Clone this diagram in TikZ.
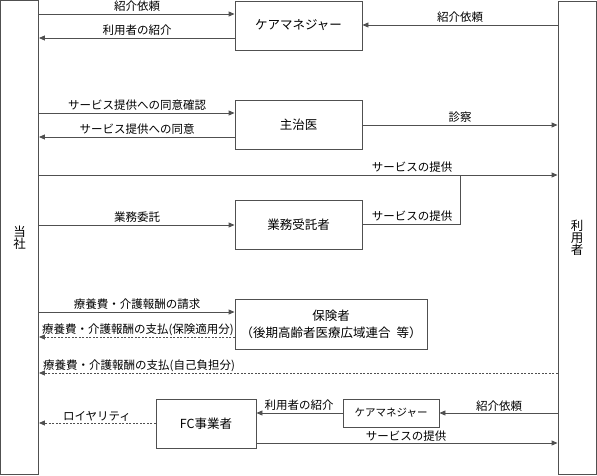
\documentclass[tikz,border=0pt]{standalone}
\usepackage{fontspec}
\setmainfont{Noto Sans CJK JP}
\usetikzlibrary{arrows.meta}
\definecolor{lc}{HTML}{505050}
\tikzset{
  box/.style={draw=lc, line width=0.9pt, fill=white, inner sep=0pt, align=center, font=\fontsize{12.5}{17}\selectfont},
  lbl/.style={inner sep=0pt, font=\fontsize{11.5}{13}\selectfont},
  arr/.style={draw=lc, line width=0.9pt, -{Triangle[length=6pt,width=5pt]}},
  ln/.style={draw=lc, line width=0.9pt},
  dsh/.style={arr, dash pattern=on 2pt off 1.5pt},
}
\begin{document}
\begin{tikzpicture}[x=1pt,y=-1pt]
\useasboundingbox (0,0) rectangle (597,476);
% side bars
\node[box, minimum width=38pt, minimum height=474pt] (tosha) at (19.5,237.5) {当\\[-5pt]社};
\node[box, minimum width=38pt, minimum height=473pt] (user) at (577,238) {利\\[-5pt]用\\[-5pt]者};
% boxes
\node[box, minimum width=127pt, minimum height=49pt] (cm) at (298.5,25.5) {ケアマネジャー};
\node[box, minimum width=127pt, minimum height=49pt] (doc) at (298.5,124.5) {主治医};
\node[box, minimum width=127pt, minimum height=49pt] (jt) at (298.5,224.5) {業務受託者};
\node[box, minimum width=192pt, minimum height=50pt] (ins) at (331,324) {保険者\\（後期高齢者医療広域連合\hspace{6pt}等）};
\node[box, minimum width=100pt, minimum height=49pt] (fc) at (206,423.5) {FC事業者};
\node[box, minimum width=96pt, minimum height=28pt, font=\fontsize{10.5}{12}\selectfont] (cm2) at (391,413) {ケアマネジャー};
% care manager
\draw[arr] (tosha.east |- 0,14) -- (cm.west |- 0,14);
\node[lbl] (l1) at (137,6) {紹介依頼};
\draw[arr] (cm.west |- 0,38) -- (tosha.east |- 0,38);
\node[lbl] (l2) at (137,30) {利用者の紹介};
\draw[arr] (user.west |- 0,25) -- (cm.east |- 0,25);
\node[lbl] (l3) at (460,17) {紹介依頼};
% doctor
\draw[arr] (tosha.east |- 0,113) -- (doc.west |- 0,113);
\node[lbl] (l4) at (137,105) {サービス提供への同意確認};
\draw[arr] (doc.west |- 0,137) -- (tosha.east |- 0,137);
\node[lbl] (l5) at (137,129) {サービス提供への同意};
\draw[arr] (doc.east |- 0,125) -- (user.west |- 0,125);
\node[lbl] (l6) at (460,117) {診察};
% service
\draw[arr] (tosha.east |- 0,175) -- (user.west |- 0,175);
\node[lbl] (l7) at (412,167) {サービスの提供};
\coordinate (j) at (460,175);
\draw[ln] (jt.east |- 0,224) -| (j);
\node[lbl] (l8) at (412,216) {サービスの提供};
\draw[arr] (tosha.east |- 0,225) -- (jt.west |- 0,225);
\node[lbl] (l9) at (137,217) {業務委託};
% insurer
\draw[arr] (tosha.east |- 0,312) -- (ins.west |- 0,312);
\node[lbl] (l10) at (137,304) {療養費・介護報酬の請求};
\draw[dsh] (ins.west |- 0,337) -- (tosha.east |- 0,337);
\node[lbl] (l11) at (138,330) {療養費・介護報酬の支払(保険適用分)};
\draw[dsh] (user.west |- 0,373) -- (tosha.east |- 0,373);
\node[lbl, anchor=west] (l12) at (43,366) {療養費・介護報酬の支払(自己負担分)};
% FC
\draw[dsh] (fc.west |- 0,423) -- (tosha.east |- 0,423);
\node[lbl] (l13) at (97,416) {ロイヤリティ};
\draw[arr] (cm2.west |- 0,413) -- (fc.east |- 0,413);
\node[lbl] (l14) at (299,405) {利用者の紹介};
\draw[arr] (user.west |- 0,413) -- (cm2.east |- 0,413);
\node[lbl] (l15) at (499,406) {紹介依頼};
\draw[arr] (fc.east |- 0,443) -- (user.west |- 0,443);
\node[lbl] (l16) at (406,436) {サービスの提供};
\end{tikzpicture}
\end{document}
